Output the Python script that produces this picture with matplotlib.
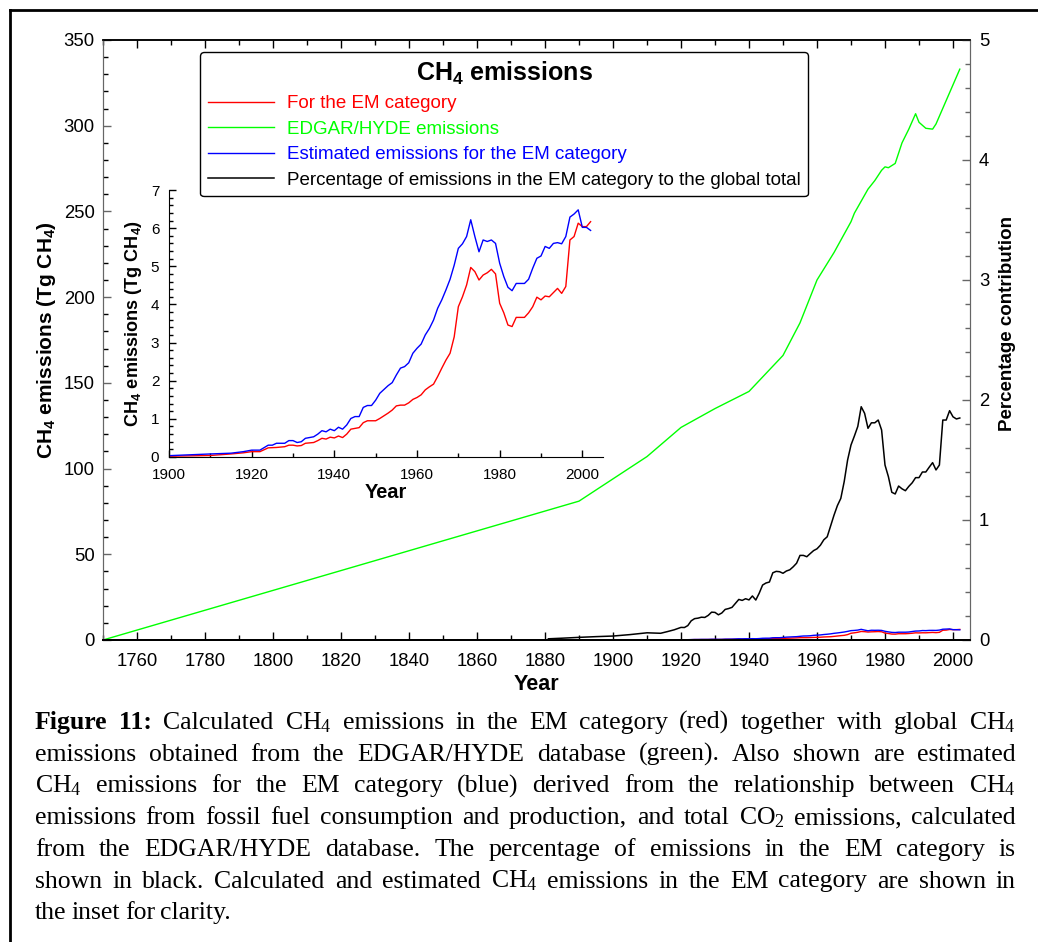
import matplotlib
matplotlib.use('Agg')
import matplotlib.pyplot as plt
from matplotlib.ticker import MultipleLocator
from matplotlib.lines import Line2D

plt.rcParams['font.family'] = ['Liberation Sans', 'DejaVu Sans']
plt.rcParams['mathtext.default'] = 'regular'

# global CH4 emissions from EDGAR/HYDE (Tg CH4)
edgar_years = [1750, 1890, 1900, 1910, 1920, 1930, 1940, 1950, 1955, 1960, 1965,
               1970, 1971, 1973, 1975, 1977, 1979, 1980, 1981, 1983, 1985, 1987,
               1989, 1990, 1992, 1994, 1995, 2002]
edgar = [0, 81, 94, 107, 124, 135, 145, 166, 185, 210, 226,
         244, 249, 256, 263, 268, 274, 276, 275.5, 278, 290, 298,
         307, 302, 298.5, 298, 301, 333]

# EM category: calculated (red) and estimated (blue), Tg CH4
em_years = [1880, 1890, 1900, 1910, 1915, 1918, 1920, 1922, 1924, 1925, 1926, 1928,
            1929, 1930, 1931, 1932, 1933, 1935, 1936, 1937, 1938, 1939, 1940, 1941,
            1942, 1943, 1944, 1945, 1946, 1947, 1948, 1949, 1950, 1951, 1952, 1953,
            1954, 1955, 1956, 1957, 1958, 1959, 1960, 1961, 1962, 1963, 1964, 1965,
            1966, 1967, 1968, 1969, 1970, 1971, 1972, 1973, 1974, 1975, 1976, 1977,
            1978, 1979, 1980, 1981, 1982, 1983, 1984, 1985, 1986, 1987, 1988, 1989,
            1990, 1991, 1992, 1993, 1994, 1995, 1996, 1997, 1998, 1999, 2000, 2001,
            2002]
em_calc = [0.005, 0.01, 0.02, 0.04, 0.08, 0.11, 0.14, 0.14, 0.24, 0.245, 0.25, 0.27,
           0.31, 0.31, 0.29, 0.30, 0.36, 0.38, 0.43, 0.49, 0.47, 0.52, 0.50, 0.55,
           0.51, 0.60, 0.73, 0.75, 0.77, 0.90, 0.95, 0.95, 0.95, 1.01, 1.08, 1.15,
           1.23, 1.34, 1.36, 1.36, 1.42, 1.51, 1.56, 1.63, 1.76, 1.84, 1.91, 2.11,
           2.33, 2.54, 2.72, 3.15, 3.94, 4.20, 4.51, 4.97, 4.86, 4.64, 4.77, 4.83,
           4.92, 4.80, 4.03, 3.78, 3.46, 3.42, 3.66, 3.66, 3.66, 3.78, 3.94, 4.19,
           4.12, 4.22, 4.20, 4.31, 4.42, 4.29, 4.47, 5.69, 5.78, 6.13, 6.04, 6.04,
           6.17]
em_est = [0.01, 0.02, 0.035, 0.08, 0.10, 0.14, 0.18, 0.18, 0.31, 0.31, 0.36, 0.36,
          0.43, 0.43, 0.38, 0.40, 0.49, 0.53, 0.60, 0.69, 0.66, 0.73, 0.69, 0.78,
          0.73, 0.84, 1.01, 1.06, 1.06, 1.30, 1.35, 1.35, 1.49, 1.67, 1.77, 1.87,
          1.95, 2.15, 2.33, 2.37, 2.47, 2.72, 2.85, 2.96, 3.20, 3.37, 3.59, 3.90,
          4.12, 4.38, 4.66, 5.03, 5.47, 5.59, 5.78, 6.22, 5.78, 5.38, 5.69, 5.65,
          5.69, 5.60, 5.08, 4.73, 4.45, 4.36, 4.55, 4.55, 4.55, 4.66, 4.95, 5.21,
          5.27, 5.52, 5.47, 5.60, 5.62, 5.59, 5.78, 6.29, 6.37, 6.48, 6.02, 6.02,
          5.94]

# share of EM category in the global total (%)
pct_years = [1881, 1885, 1890, 1895, 1900, 1905, 1910, 1912, 1914, 1916, 1918, 1920,
             1921, 1922, 1923, 1924, 1925, 1926, 1927, 1928, 1929, 1930, 1931, 1932,
             1933, 1934, 1935, 1936, 1937, 1938, 1939, 1940, 1941, 1942, 1943, 1944,
             1945, 1946, 1947, 1948, 1949, 1950, 1951, 1952, 1953, 1954, 1955, 1956,
             1957, 1958, 1959, 1960, 1961, 1962, 1963, 1964, 1965, 1966, 1967, 1968,
             1969, 1970, 1971, 1972, 1973, 1974, 1975, 1976, 1977, 1978, 1979, 1980,
             1981, 1982, 1983, 1984, 1985, 1986, 1987, 1988, 1989, 1990, 1991, 1992,
             1993, 1994, 1995, 1996, 1997, 1998, 1999, 2000, 2001, 2002]
pct = [0.01, 0.015, 0.022, 0.028, 0.033, 0.045, 0.06, 0.058, 0.056, 0.07, 0.085, 0.105,
       0.104, 0.12, 0.16, 0.178, 0.182, 0.19, 0.188, 0.205, 0.232, 0.23, 0.21, 0.225,
       0.255, 0.262, 0.272, 0.305, 0.338, 0.33, 0.344, 0.334, 0.367, 0.333, 0.39, 0.458,
       0.475, 0.483, 0.56, 0.572, 0.569, 0.556, 0.575, 0.585, 0.61, 0.64, 0.705, 0.705,
       0.694, 0.72, 0.745, 0.76, 0.79, 0.835, 0.86, 0.95, 1.04, 1.12, 1.18, 1.32,
       1.5, 1.625, 1.7, 1.78, 1.944, 1.889, 1.764, 1.81, 1.81, 1.833, 1.75, 1.458,
       1.361, 1.231, 1.217, 1.283, 1.26, 1.244, 1.28, 1.31, 1.353, 1.353, 1.4, 1.40,
       1.44, 1.478, 1.417, 1.458, 1.833, 1.833, 1.911, 1.86, 1.842, 1.85]

caption_lines = [
    "Figure 11: Calculated CH$_4$ emissions in the EM category (red) together with global CH$_4$",
    "emissions obtained from the EDGAR/HYDE database (green).  Also shown are estimated",
    "CH$_4$ emissions for the EM category (blue) derived from the relationship between CH$_4$",
    "emissions from fossil fuel consumption and production, and total CO$_2$ emissions, calculated",
    "from the EDGAR/HYDE database.  The percentage of emissions in the EM category is",
    "shown in black.  Calculated and estimated CH$_4$ emissions in the EM category are shown in",
    "the inset for clarity.",
]

W, H = 1038, 942
fig = plt.figure(figsize=(W / 100, H / 100), dpi=100)


def fbox(x0, y0, x1, y1):
    # pixel box (top-left origin) -> figure fraction rect
    return [x0 / W, 1 - y1 / H, (x1 - x0) / W, (y1 - y0) / H]


RED, GREEN, BLUE = '#ff0000', '#00ff00', '#0000ff'
GREY = '#666666'

# ---- main axes ----
ax = fig.add_axes(fbox(103, 40, 970, 640))
ax2 = ax.twinx()

l_green, = ax.plot(edgar_years, edgar, color=GREEN, lw=1.0)
l_red, = ax.plot(em_years, em_calc, color=RED, lw=1.0)
l_blue, = ax.plot(em_years, em_est, color=BLUE, lw=1.0)
l_black, = ax2.plot(pct_years, pct, color='black', lw=1.1)

ax.set_xlim(1750, 2005)
ax.set_ylim(0, 350)
ax2.set_ylim(0, 5)
ax.xaxis.set_major_locator(MultipleLocator(20))
ax.xaxis.set_minor_locator(MultipleLocator(10))
ax.yaxis.set_major_locator(MultipleLocator(50))
ax.yaxis.set_minor_locator(MultipleLocator(10))
ax2.yaxis.set_major_locator(MultipleLocator(1))
ax2.yaxis.set_minor_locator(MultipleLocator(0.2))

ax.tick_params(which='both', direction='in', top=True, right=False, width=1.0)
ax.tick_params(which='major', length=6)
ax.tick_params(which='minor', length=3.5)
ax.tick_params(axis='x', labelsize=13.3, pad=9)
ax.tick_params(axis='y', labelsize=13.3, pad=6, color=GREY)
ax2.tick_params(which='both', direction='in', width=1.0, labelsize=13.3, pad=6.5,
                color=GREY)
ax2.tick_params(which='major', length=6)
ax2.tick_params(which='minor', length=3.5)

for a in (ax, ax2):
    a.spines['left'].set_color(GREY)
    a.spines['right'].set_color(GREY)
    a.spines['bottom'].set_linewidth(1.4)
    a.spines['top'].set_linewidth(1.1)

ax.set_xlabel('Year', fontsize=15.5, fontweight='bold', labelpad=3)
ax.set_ylabel('CH$_4$ emissions (Tg CH$_4$)', fontsize=15, fontweight='bold', labelpad=4)
ax2.set_ylabel('Percentage contribution', fontsize=13.5, fontweight='bold')
ax2.yaxis.set_label_coords(1.033, 0.527)

leg = ax2.legend([l_red, l_green, l_blue, l_black],
                 ['For the EM category', 'EDGAR/HYDE emissions',
                  'Estimated emissions for the EM category',
                  'Percentage of emissions in the EM category to the global total'],
                 loc='upper left', bbox_to_anchor=(200 / W, 1 - 52 / H),
                 bbox_transform=fig.transFigure, borderaxespad=0,
                 title='CH$_4$ emissions',
                 title_fontproperties={'weight': 'bold', 'size': 18},
                 fontsize=13.5, labelcolor='linecolor', fancybox=True,
                 edgecolor='black', framealpha=1, handlelength=3.55,
                 handletextpad=0.68, labelspacing=0.45, borderpad=0.4)
leg.get_frame().set_linewidth(1.0)

# ---- inset ----
ins = fig.add_axes(fbox(169, 190, 603, 457))
ins.set_facecolor('none')
ins.plot(em_years, em_calc, color=RED, lw=1.0)
ins.plot(em_years, em_est, color=BLUE, lw=1.0)
ins.set_xlim(1900, 2005)
ins.set_ylim(0, 7)
ins.spines['top'].set_visible(False)
ins.spines['right'].set_visible(False)
ins.xaxis.set_major_locator(MultipleLocator(20))
ins.xaxis.set_minor_locator(MultipleLocator(10))
ins.yaxis.set_major_locator(MultipleLocator(1))
ins.yaxis.set_minor_locator(MultipleLocator(0.2))
ins.tick_params(which='both', direction='in', width=1.0)
ins.tick_params(which='major', length=5)
ins.tick_params(which='minor', length=3)
ins.tick_params(axis='x', labelsize=11, pad=8)
ins.tick_params(axis='y', labelsize=11, pad=7)
ins.set_xlabel('Year', fontsize=14.4, fontweight='bold', labelpad=1)
ins.set_ylabel('CH$_4$ emissions (Tg CH$_4$)', fontsize=13.1, fontweight='bold', labelpad=5)

# outer frame (left and top edges)
fig.add_artist(Line2D([9.5 / W, 9.5 / W], [0, 1 - 9.5 / H], transform=fig.transFigure,
                      color='black', lw=2))
fig.add_artist(Line2D([9.5 / W, 1], [1 - 9.5 / H, 1 - 9.5 / H], transform=fig.transFigure,
                      color='black', lw=2))

# ---- justified caption ----
cap_left, cap_right = 35, 1016
base0, step = 729, 31.7
cap_font = {'family': ['Liberation Serif', 'DejaVu Serif'], 'size': 18.5}
renderer = fig.canvas.get_renderer()
for i, line in enumerate(caption_lines):
    words = line.split()
    y = 1 - (base0 + i * step) / H
    texts = []
    for j, w in enumerate(words):
        bold = (i == 0 and j < 2)
        t = fig.text(0, y, w, va='baseline', ha='left', fontdict=cap_font,
                     fontweight='bold' if bold else 'normal')
        texts.append(t)
    widths = [t.get_window_extent(renderer).width for t in texts]
    if i < len(caption_lines) - 1:
        gap = (cap_right - cap_left - sum(widths)) / (len(words) - 1)
    else:
        gap = 5
    x = cap_left
    for t, wd in zip(texts, widths):
        t.set_x(x / W)
        x += wd + gap

fig.savefig('out.png', dpi=100)
